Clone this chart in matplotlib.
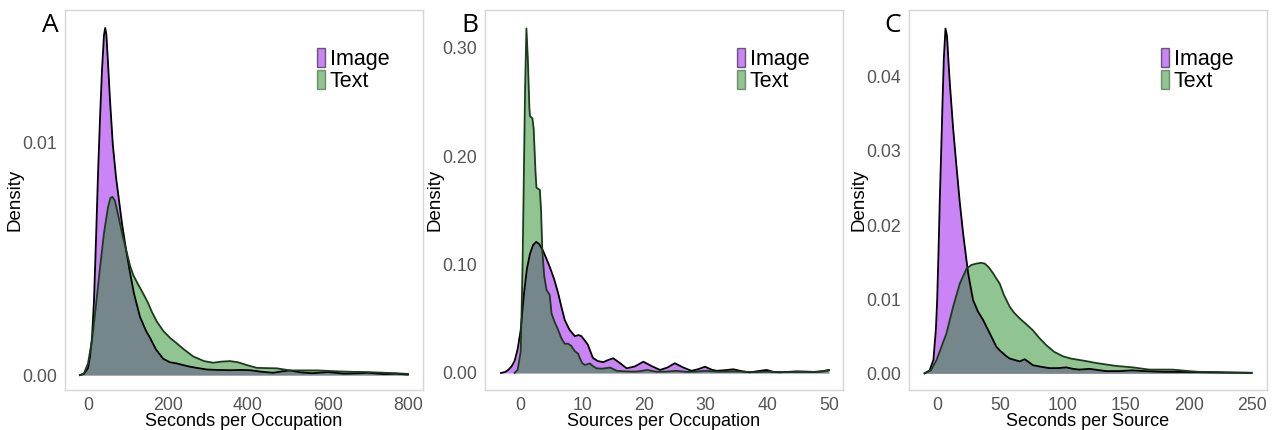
import matplotlib
matplotlib.use("Agg")
import matplotlib.pyplot as plt
from matplotlib.patches import Patch

plt.rcParams['font.family'] = ['Liberation Sans', 'DejaVu Sans']

# density curves (x, density) per panel and group
a_img_x = [-20, -10, 0, 5, 10, 15, 20, 25, 30, 35, 40, 43, 46, 50, 55, 62, 70, 76, 85, 95,
           105, 115, 130, 145, 155, 170, 188, 205, 222, 240, 255, 275, 297, 325, 355, 380,
           405, 435, 463, 485, 505, 530, 560, 600, 640, 680, 700, 740, 770, 800]
a_img_y = [0, 0.00005, 0.0003, 0.0008, 0.0016, 0.0032, 0.0058, 0.0086, 0.0110, 0.0131,
           0.0146, 0.0149, 0.0146, 0.0134, 0.0118, 0.0099, 0.0085, 0.0077, 0.0065, 0.0054,
           0.0044, 0.0035, 0.0025, 0.0019, 0.0016, 0.0011, 0.0007, 0.00055, 0.0005, 0.00042,
           0.00036, 0.0003, 0.00024, 0.00022, 0.00021, 0.00022, 0.00021, 0.00014, 0.0001,
           0.00016, 0.0002, 0.00012, 0.00008, 0.00013, 0.00006, 0.00008, 0.0001, 0.00004,
           0.00006, 0.00002]
a_txt_x = [-20, -10, 0, 10, 20, 30, 40, 50, 56, 61, 67, 75, 85, 95, 105, 113, 125, 138, 150,
           160, 172, 188, 205, 222, 240, 263, 290, 313, 335, 355, 375, 397, 422, 445, 472,
           505, 540, 572, 600, 622, 660, 697, 740, 770, 800]
a_txt_y = [0, 0.00008, 0.0005, 0.0015, 0.0030, 0.0046, 0.0061, 0.0072, 0.0076, 0.00765,
           0.0075, 0.0069, 0.0061, 0.0054, 0.0047, 0.0043, 0.0039, 0.0035, 0.0031, 0.0027,
           0.0023, 0.0019, 0.0016, 0.00136, 0.0011, 0.0008, 0.0006, 0.00053, 0.00058, 0.0006,
           0.00055, 0.00043, 0.00031, 0.0003, 0.00029, 0.0002, 0.0002, 0.0002, 0.00018,
           0.00016, 0.00014, 0.00013, 0.0001, 0.00008, 0.00005]

b_img_x = [-3.2, -2.5, -2.0, -1.5, -1.0, -0.5, 0, 0.5, 1.0, 1.5, 2.0, 2.5, 3.0, 3.6, 4.2, 4.7,
           5.4, 6.06, 6.6, 7.14, 7.9, 8.77, 9.4, 9.84, 10.4, 10.9, 11.7, 12.5, 13.4, 14.2, 15.0,
           15.9, 17.2, 18.5, 19.9, 21.2, 22.6, 23.8, 25, 26.4, 27.7, 28.8, 29.9, 31, 31.8, 33,
           34.5, 36, 37.2, 38.5, 39.9, 41, 42, 44.8, 47.5, 49, 50]
b_img_y = [0, 0.001, 0.003, 0.006, 0.011, 0.022, 0.040, 0.072, 0.096, 0.110, 0.118, 0.121,
           0.119, 0.113, 0.105, 0.098, 0.087, 0.074, 0.061, 0.049, 0.040, 0.034, 0.035, 0.034,
           0.030, 0.026, 0.014, 0.011, 0.010, 0.012, 0.0136, 0.010, 0.0043, 0.006, 0.0104,
           0.0065, 0.0028, 0.005, 0.009, 0.005, 0.002, 0.0035, 0.0058, 0.003, 0.002, 0.0025,
           0.0034, 0.0015, 0.0006, 0.0017, 0.0028, 0.001, 0.0006, 0.0015, 0.001, 0.0015, 0.0028]
b_txt_x = [-1.0, -0.5, 0, 0.3, 0.5, 0.7, 0.92, 1.15, 1.4, 1.5, 1.9, 2.1, 2.4, 2.55, 3.1, 3.3,
           3.5, 3.8, 4.17, 4.7, 5.0, 5.5, 6.06, 6.6, 7.14, 7.7, 8.2, 8.8, 9.3, 9.6, 10.0, 10.4,
           11.2, 11.8, 12.3, 13.2, 14.5, 15.6, 17, 18.5, 19.4, 20.5, 22, 23.6, 25.3, 27, 28.5,
           29.9, 32, 35, 38, 40, 43, 46, 48, 50]
b_txt_y = [0, 0.003, 0.02, 0.10, 0.18, 0.26, 0.318, 0.29, 0.245, 0.237, 0.235, 0.225, 0.185,
           0.171, 0.169, 0.150, 0.113, 0.090, 0.077, 0.072, 0.055, 0.047, 0.040, 0.032, 0.027,
           0.027, 0.025, 0.020, 0.018, 0.0136, 0.009, 0.0074, 0.0088, 0.006, 0.0043, 0.004,
           0.005, 0.002, 0.0015, 0.0013, 0.0017, 0.0028, 0.0012, 0.0013, 0.002, 0.0010, 0.0013,
           0.002, 0.0012, 0.0015, 0.0008, 0.0012, 0.0008, 0.0011, 0.0010, 0.0025]

c_img_x = [-10, -6, -3, -1, 0, 1, 2.1, 3.2, 4.3, 5.3, 6.6, 7.8, 9, 10.1, 12.7, 15.4, 18, 20.6,
           24.6, 28.5, 32.5, 36.5, 41.8, 47, 49.7, 55, 57.6, 65.6, 69.5, 73, 76, 82, 89, 96,
           102.6, 108, 113, 121, 134, 145, 155, 165, 180, 200, 220, 235, 250]
c_img_y = [0, 0.0004, 0.0018, 0.006, 0.0099, 0.016, 0.0235, 0.030, 0.0368, 0.0425, 0.0465,
           0.0455, 0.042, 0.039, 0.033, 0.0278, 0.023, 0.0189, 0.0135, 0.0099, 0.0083, 0.0072,
           0.0054, 0.0036, 0.0031, 0.0023, 0.002, 0.0016, 0.0019, 0.0015, 0.0011, 0.0009,
           0.0007, 0.0007, 0.0008, 0.0006, 0.0005, 0.0006, 0.0003, 0.0003, 0.0004, 0.0003,
           0.0002, 0.00018, 0.00012, 0.0001, 0.00005]
c_txt_x = [-10, -5, -0.5, 3, 7.4, 12.7, 18, 23.3, 27, 31.2, 35, 37.8, 41, 44.4, 47, 49.7, 53,
           57.6, 61, 65.6, 71, 76.1, 81, 86.7, 93, 99.9, 106, 113, 120, 126, 134, 142, 155.5,
           168.7, 187, 200, 208, 220, 235, 250]
c_txt_y = [0, 0.0004, 0.0018, 0.0034, 0.0054, 0.009, 0.0121, 0.0141, 0.0146, 0.0148, 0.0149,
           0.0148, 0.0143, 0.0135, 0.0128, 0.0121, 0.0106, 0.009, 0.0082, 0.0074, 0.0066,
           0.0058, 0.0048, 0.0038, 0.0029, 0.0023, 0.002, 0.0018, 0.0016, 0.0014, 0.0012,
           0.001, 0.0008, 0.0005, 0.0005, 0.0003, 0.0002, 0.00018, 0.0001, 0.00008]

panels = [
    dict(letter="A", xlabel="Seconds per Occupation",
         img=(a_img_x, a_img_y), txt=(a_txt_x, a_txt_y),
         xticks=[0, 200, 400, 600, 800], yticks=[0, 0.01], yfmt="{:.2f}",
         xlim=(-57.5, 837.5), ylim=(-0.00064, 0.01567)),
    dict(letter="B", xlabel="Sources per Occupation",
         img=(b_img_x, b_img_y), txt=(b_txt_x, b_txt_y),
         xticks=[0, 10, 20, 30, 40, 50], yticks=[0, 0.1, 0.2, 0.3], yfmt="{:.2f}",
         xlim=(-5.8, 52.3), ylim=(-0.0157, 0.335)),
    dict(letter="C", xlabel="Seconds per Source",
         img=(c_img_x, c_img_y), txt=(c_txt_x, c_txt_y),
         xticks=[0, 50, 100, 150, 200, 250], yticks=[0, 0.01, 0.02, 0.03, 0.04], yfmt="{:.2f}",
         xlim=(-22.4, 262.2), ylim=(-0.00225, 0.049)),
]

IMG_FILL = "#A020F0"
TXT_FILL = "#228B22"
TXT_EDGE = "#1c3b1c"

W, H = 1275, 430
fig = plt.figure(figsize=(W / 100, H / 100), dpi=100)
lefts = [65, 485, 909]
letter_x = [50, 470, 893]

for i, p in enumerate(panels):
    ax = fig.add_axes([lefts[i] / W, 40 / H, 358 / W, 380 / H])

    ix, iy = p["img"]
    tx, ty = p["txt"]
    ax.fill_between(ix, 0, iy, color=IMG_FILL, alpha=0.55, lw=0)
    ax.plot(ix, iy, color="black", lw=1.3)
    ax.fill_between(tx, 0, ty, color=TXT_FILL, alpha=0.5, lw=0)
    ax.plot(tx, ty, color=TXT_EDGE, lw=1.3)

    ax.set_xlim(*p["xlim"])
    ax.set_ylim(*p["ylim"])
    ax.set_xticks(p["xticks"])
    ax.set_yticks(p["yticks"])
    ax.set_yticklabels([p["yfmt"].format(v) for v in p["yticks"]])
    ax.tick_params(length=0, labelsize=12.8, labelcolor="#555555")
    ax.tick_params(axis="x", pad=5)
    ax.tick_params(axis="y", pad=6)
    ax.set_xlabel(p["xlabel"], fontsize=13, labelpad=-1)
    ax.set_ylabel("Density", fontsize=13.5, labelpad=-1)
    for s in ax.spines.values():
        s.set_color("#d6d6d6")
        s.set_linewidth(1.0)

    handles = [Patch(facecolor=IMG_FILL, alpha=0.55, edgecolor="black", lw=1.0),
               Patch(facecolor=TXT_FILL, alpha=0.5, edgecolor=TXT_EDGE, lw=1.0)]
    ax.legend(handles, ["Image", "Text"], loc="upper left", bbox_to_anchor=(0.705, 0.9),
              frameon=False, fontsize=15.5, handlelength=0.35, handleheight=1.0,
              handletextpad=0.22, labelspacing=0.0, borderpad=0, borderaxespad=0)

    fig.text(letter_x[i] / W, 1 - 32 / H, p["letter"], fontsize=19, family="Open Sans",
             ha="center", va="baseline")

fig.savefig("out.png", dpi=100, facecolor="white")
